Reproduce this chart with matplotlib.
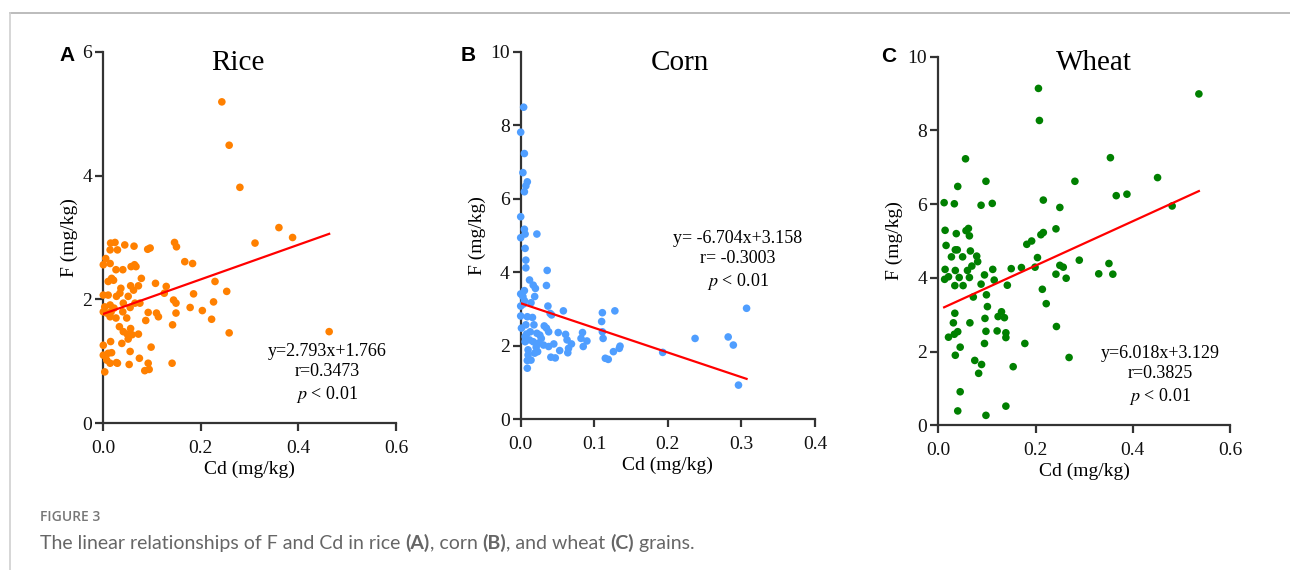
import numpy as np
import matplotlib
matplotlib.use("Agg")
import matplotlib.pyplot as plt
from matplotlib.lines import Line2D

plt.rcParams['font.family'] = ['Liberation Serif', 'DejaVu Serif']
plt.rcParams['mathtext.fontset'] = 'stix'

# ======================
# DATA
# ======================
rice_cd = [0.243, 0.258, 0.280, 0.360, 0.388, 0.311, 0.463, 0.258, 0.253, 0.229,
           0.226, 0.222, 0.203, 0.185, 0.183, 0.167, 0.178, 0.146, 0.150, 0.144,
           0.149, 0.149, 0.142, 0.141, 0.129, 0.125, 0.107, 0.109, 0.113, 0.098,
           0.092, 0.091, 0.096, 0.087, 0.092, 0.085, 0.094, 0.078, 0.075, 0.072,
           0.072, 0.074, 0.063, 0.064, 0.067, 0.057, 0.056, 0.062, 0.065, 0.055,
           0.051, 0.048, 0.056, 0.049, 0.059, 0.055, 0.053, 0.051, 0.044, 0.040,
           0.041, 0.040, 0.038, 0.036, 0.034, 0.033, 0.041, 0.027, 0.027, 0.026,
           0.029, 0.024, 0.015, 0.014, 0.021, 0.017, 0.010, 0.014, 0.005, 0.000,
           0.010, 0.000, 0.014, 0.003, 0.000, 0.007, 0.014, 0.016, 0.022, 0.026,
           0.015, 0.000, 0.000, 0.010, 0.017, 0.007, 0.014, 0.003, 0.029]
rice_f = [5.19, 4.49, 3.81, 3.16, 3.00, 2.91, 1.48, 1.46, 2.13, 2.29,
          1.96, 1.68, 1.82, 2.09, 2.58, 2.61, 1.87, 2.92, 2.85, 1.99,
          1.94, 1.78, 1.59, 0.97, 2.21, 2.10, 2.26, 1.78, 1.72, 1.23,
          1.79, 2.81, 2.83, 1.66, 0.97, 0.85, 0.87, 2.34, 1.94, 2.22,
          1.44, 1.05, 2.86, 2.56, 2.53, 2.53, 2.22, 2.15, 1.94, 1.87,
          2.05, 1.70, 1.53, 1.44, 1.43, 1.16, 0.95, 1.36, 2.88, 2.48,
          1.94, 1.80, 1.29, 2.18, 2.10, 1.56, 1.48, 2.05, 0.98, 2.48,
          2.80, 2.92, 2.91, 2.80, 2.31, 2.34, 2.29, 2.58, 2.66, 2.56,
          2.07, 2.07, 1.91, 1.88, 1.80, 1.78, 1.72, 1.80, 1.86, 1.70,
          1.32, 1.26, 1.10, 1.13, 1.14, 1.02, 0.97, 0.83, 0.97]

corn_cd = [0.004, 0.000, 0.005, 0.003, 0.009, 0.007, 0.005, 0.000, 0.005, 0.006,
           0.000, 0.022, 0.006, 0.007, 0.007, 0.036, 0.035, 0.012, 0.017, 0.020,
           0.005, 0.000, 0.003, 0.019, 0.005, 0.000, 0.004, 0.014, 0.037, 0.058,
           0.040, 0.042, 0.111, 0.128, 0.307, 0.000, 0.009, 0.016, 0.110, 0.007,
           0.018, 0.032, 0.035, 0.038, 0.022, 0.008, 0.051, 0.061, 0.084, 0.111,
           0.112, 0.237, 0.282, 0.289, 0.028, 0.012, 0.006, 0.017, 0.024, 0.031,
           0.063, 0.082, 0.090, 0.045, 0.069, 0.038, 0.021, 0.010, 0.023, 0.085,
           0.134, 0.135, 0.065, 0.053, 0.064, 0.126, 0.193, 0.010, 0.019, 0.014,
           0.009, 0.041, 0.047, 0.115, 0.119, 0.009, 0.296, 0.026, 0.013, 0.006,
           0.001]
corn_f = [8.49, 7.81, 7.23, 6.71, 6.46, 6.35, 6.19, 5.51, 5.17, 5.04,
          4.94, 5.04, 4.65, 4.33, 4.12, 4.05, 3.64, 3.79, 3.65, 3.56,
          3.50, 3.41, 3.34, 3.34, 3.23, 3.08, 3.14, 3.17, 3.08, 2.95,
          2.88, 2.84, 2.90, 2.95, 3.02, 2.81, 2.79, 2.77, 2.66, 2.57,
          2.57, 2.54, 2.48, 2.38, 2.34, 2.32, 2.36, 2.31, 2.36, 2.38,
          2.20, 2.20, 2.24, 2.02, 2.20, 2.16, 2.11, 2.11, 2.07, 2.02,
          2.16, 2.20, 2.13, 2.05, 2.05, 1.98, 1.96, 1.89, 1.84, 1.98,
          1.93, 1.99, 1.93, 1.87, 1.81, 1.84, 1.82, 1.75, 1.80, 1.61,
          1.60, 1.69, 1.67, 1.66, 1.63, 1.39, 0.93, 2.29, 2.38, 2.25,
          2.48]

wheat_cd = [0.206, 0.536, 0.208, 0.056, 0.354, 0.451, 0.281, 0.098, 0.040, 0.012,
            0.033, 0.088, 0.111, 0.216, 0.250, 0.366, 0.388, 0.481, 0.242, 0.216,
            0.211, 0.182, 0.192, 0.014, 0.037, 0.057, 0.062, 0.064, 0.016, 0.035,
            0.039, 0.027, 0.050, 0.066, 0.079, 0.081, 0.069, 0.060, 0.064, 0.043,
            0.035, 0.014, 0.013, 0.021, 0.034, 0.051, 0.095, 0.112, 0.115, 0.088,
            0.072, 0.099, 0.142, 0.150, 0.171, 0.199, 0.204, 0.290, 0.250, 0.257,
            0.242, 0.263, 0.330, 0.351, 0.359, 0.214, 0.222, 0.243, 0.269, 0.178,
            0.154, 0.101, 0.034, 0.031, 0.065, 0.096, 0.130, 0.123, 0.136, 0.121,
            0.098, 0.139, 0.139, 0.021, 0.033, 0.040, 0.045, 0.095, 0.035, 0.075,
            0.089, 0.083, 0.045, 0.040, 0.139, 0.098]
wheat_f = [9.14, 8.99, 8.27, 7.23, 7.26, 6.72, 6.62, 6.62, 6.48, 6.04,
           6.01, 5.97, 6.02, 6.11, 5.91, 6.23, 6.27, 5.95, 5.33, 5.23,
           5.17, 4.91, 5.00, 5.29, 5.20, 5.28, 5.34, 5.14, 4.88, 4.76,
           4.76, 4.57, 4.57, 4.73, 4.59, 4.44, 4.32, 4.20, 4.01, 4.01,
           4.20, 4.23, 3.96, 4.03, 3.79, 3.79, 4.08, 4.23, 3.94, 3.83,
           3.48, 3.54, 3.80, 4.25, 4.28, 4.29, 4.55, 4.48, 4.34, 4.29,
           4.10, 3.99, 4.11, 4.39, 4.10, 3.69, 3.30, 2.68, 1.84, 2.22,
           1.59, 3.22, 3.04, 2.78, 2.78, 2.90, 3.08, 2.95, 2.92, 2.56,
           2.55, 2.51, 2.38, 2.39, 2.47, 2.54, 2.12, 2.22, 1.90, 1.76,
           1.65, 1.41, 0.91, 0.39, 0.52, 0.27]

# regression results printed on the figure
slopes = [2.793, -6.704, 6.018]
intercepts = [1.766, 3.158, 3.129]
r_values = ["0.3473", " -0.3003", "0.3825"]
eq_texts = ["y=2.793x+1.766", "y= -6.704x+3.158", "y=6.018x+3.129"]

titles = ["Rice", "Corn", "Wheat"]
letters = ["A", "B", "C"]
colors = ["#FF8000", "#4F9EFF", "#008000"]
xmaxs = [0.6, 0.4, 0.6]
ymaxs = [6, 10, 10]

# ======================
# FIGURE
# ======================
fig = plt.figure(figsize=(12.9, 5.7), dpi=100)

# page frame lines
fig.add_artist(Line2D([10/1290, 1], [1 - 12.5/570, 1 - 12.5/570],
                      transform=fig.transFigure, color="#b0b0b0", lw=1.2))
fig.add_artist(Line2D([10/1290, 10/1290], [0, 1 - 12.5/570],
                      transform=fig.transFigure, color="#d0d0d0", lw=1.2))

axes_rects = [
    [103.3/1290, 1 - 423.3/570, 292.7/1290, 371.6/570],
    [520.7/1290, 1 - 419.3/570, 294.3/1290, 367.6/570],
    [938.3/1290, 1 - 425.3/570, 291.7/1290, 368.6/570],
]
# text placements (axes fraction / data coords)
title_pos = [(0.46, 0.970), (0.541, 0.968), (0.534, 0.982)]
letter_pos = [(-0.097, 0.989), (-0.152, 0.991), (-0.143, 1.0)]
ann_pos = [(0.4586, 0.796), (0.2953, 4.31), (0.456, 1.34)]

xs = [rice_cd, corn_cd, wheat_cd]
ys = [rice_f, corn_f, wheat_f]

for i in range(3):
    ax = fig.add_axes(axes_rects[i])
    x = np.array(xs[i])
    y = np.array(ys[i])

    ax.scatter(x, y, s=30, color=colors[i], edgecolors="none", clip_on=False, zorder=3)

    xl = np.array([x.min(), x.max()])
    ax.plot(xl, slopes[i] * xl + intercepts[i], color="red", lw=1.6, zorder=4)

    ax.set_xlim(0, xmaxs[i])
    ax.set_ylim(0, ymaxs[i])
    if xmaxs[i] == 0.6:
        ax.set_xticks([0.0, 0.2, 0.4, 0.6])
    else:
        ax.set_xticks([0.0, 0.1, 0.2, 0.3, 0.4])
    ax.set_yticks(np.arange(0, ymaxs[i] + 1, 2))
    ax.xaxis.set_major_formatter(matplotlib.ticker.FormatStrFormatter("%.1f"))

    for side in ["top", "right"]:
        ax.spines[side].set_visible(False)
    for side in ["left", "bottom"]:
        ax.spines[side].set_color("#333333")
        ax.spines[side].set_linewidth(1.6)
    ax.tick_params(direction="out", length=6, width=1.6, color="#333333",
                   labelsize=14, labelcolor="#111111")
    ax.tick_params(axis="x", pad=6)
    ax.tick_params(axis="y", pad=2)

    ax.set_xlabel("Cd (mg/kg)", fontsize=14, labelpad=3)
    ax.set_ylabel("F (mg/kg)", fontsize=14, labelpad=3)

    tx, ty = title_pos[i]
    ax.text(tx, ty, titles[i], transform=ax.transAxes, fontsize=21,
            ha="center", va="center")

    lx, ly = letter_pos[i]
    ax.text(lx, ly, letters[i], transform=ax.transAxes, fontsize=15,
            fontweight="bold", family="Liberation Sans", ha="right", va="center")

    ax_x, ax_y = ann_pos[i]
    ax.text(ax_x, ax_y, eq_texts[i] + "\nr=" + r_values[i] + "\n$p$ < 0.01",
            fontsize=13, ha="center", va="center", linespacing=1.25)

# ======================
# CAPTION
# ======================
fig.text(40/1290, 1 - 517/570, "FIGURE 3", fontsize=10, color="#777777",
         family="Open Sans", fontweight="semibold", va="center")

cap_parts = [("The linear relationships of F and Cd in rice ", "normal"),
             ("(A)", "bold"), (", corn ", "normal"), ("(B)", "bold"),
             (", and wheat ", "normal"), ("(C)", "bold"), (" grains.", "normal")]
renderer = fig.canvas.get_renderer()
xpos = 40
for txt, w in cap_parts:
    t = fig.text(xpos/1290, 1 - 543/570, txt, fontsize=14, color="#666666",
                 family="Lato", fontweight=w, va="center")
    bb = t.get_window_extent(renderer=renderer)
    xpos += bb.width

fig.savefig("out.png", dpi=100)
